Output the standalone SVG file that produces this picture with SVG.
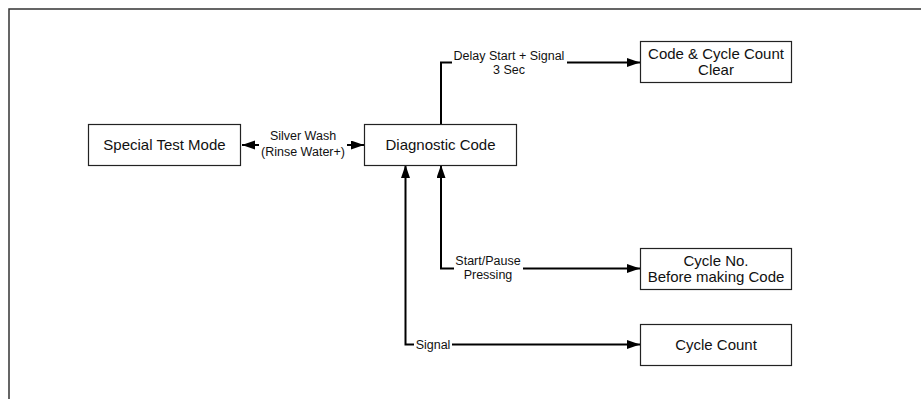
<svg xmlns="http://www.w3.org/2000/svg" width="921" height="399" viewBox="0 0 921 399">
<style>
.box{fill:#fff;stroke:#222;stroke-width:1.2}
.frame{fill:none;stroke:#333;stroke-width:1.5}
.con{fill:none;stroke:#000;stroke-width:2}
.t{font-family:"Liberation Sans",Arial,sans-serif;font-size:15px;fill:#111;text-anchor:middle}
.s{font-family:"Liberation Sans",Arial,sans-serif;font-size:12.5px;fill:#111;text-anchor:middle}
</style>
<defs>
<marker id="ah" markerUnits="userSpaceOnUse" markerWidth="14" markerHeight="10" refX="13" refY="4.5" orient="auto">
<path d="M0,0 L13,4.5 L0,9 Z" fill="#000"/>
</marker>
</defs>
<rect width="921" height="399" fill="#fff"/>
<path class="frame" d="M9,399 V9 H921"/>
<g id="connectors">
<path class="con" d="M259,145 H242" marker-end="url(#ah)"/>
<path class="con" d="M347,145 H364" marker-end="url(#ah)"/>
<path class="con" d="M441,124 V62.5 H452"/>
<path class="con" d="M567,62.5 H640" marker-end="url(#ah)"/>
<path class="con" d="M454,268.5 H441 V165" marker-end="url(#ah)"/>
<path class="con" d="M523,268.5 H640" marker-end="url(#ah)"/>
<path class="con" d="M414,344.5 H405.5 V165" marker-end="url(#ah)"/>
<path class="con" d="M452,344.5 H640" marker-end="url(#ah)"/>
<text class="s" x="303" y="140">Silver Wash</text>
<text class="s" x="303" y="155.5">(Rinse Water+)</text>
<text class="s" x="509" y="60">Delay Start + Signal</text>
<text class="s" x="509" y="73.5">3 Sec</text>
<text class="s" x="488" y="265">Start/Pause</text>
<text class="s" x="488" y="279">Pressing</text>
<text class="s" x="433" y="349">Signal</text>
</g>
<g id="special-test-mode">
<rect class="box" x="88.5" y="124.5" width="152" height="41"/>
<text class="t" x="164.5" y="150">Special Test Mode</text>
</g>
<g id="diagnostic-code">
<rect class="box" x="364.5" y="124.5" width="152" height="41"/>
<text class="t" x="440.5" y="150">Diagnostic Code</text>
</g>
<g id="code-cycle-count-clear">
<rect class="box" x="640.5" y="41.5" width="151" height="41"/>
<text class="t" x="716" y="58.5">Code &amp; Cycle Count</text>
<text class="t" x="716" y="75">Clear</text>
</g>
<g id="cycle-no">
<rect class="box" x="640.5" y="248.5" width="151" height="41"/>
<text class="t" x="716" y="266">Cycle No.</text>
<text class="t" x="716" y="282">Before making Code</text>
</g>
<g id="cycle-count">
<rect class="box" x="640.5" y="324.5" width="151" height="41"/>
<text class="t" x="716" y="350">Cycle Count</text>
</g>
</svg>
